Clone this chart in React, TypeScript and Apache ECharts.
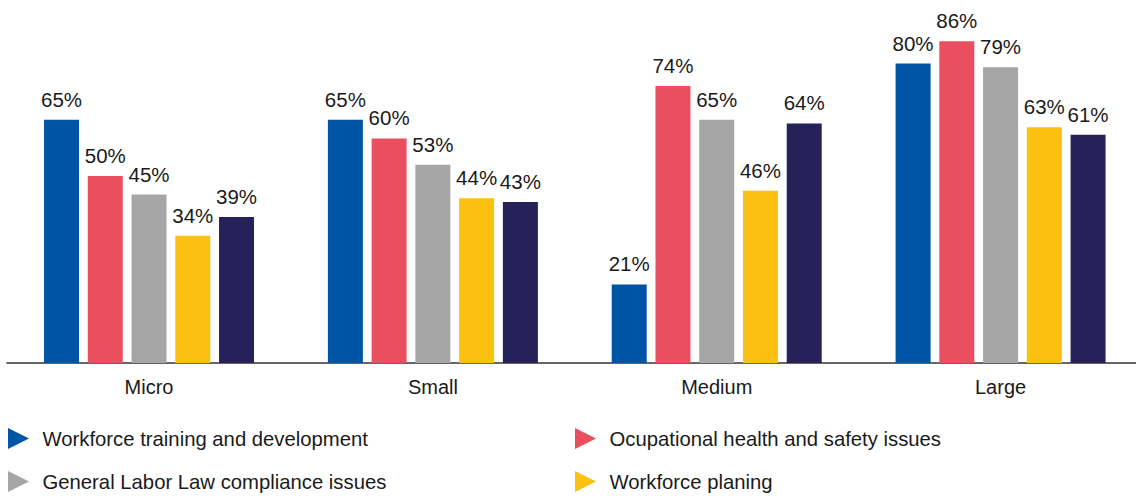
import React, { useEffect, useRef } from "react";
import * as echarts from "echarts";

const categories = ["Micro", "Small", "Medium", "Large"];
const seriesNames = [
  "Workforce training and development",
  "Ocupational health and safety issues",
  "General Labor Law compliance issues",
  "Workforce planing",
  "Other",
];
const trainingValues = [65, 65, 21, 80];
const healthSafetyValues = [50, 60, 74, 86];
const laborLawValues = [45, 53, 65, 79];
const planingValues = [34, 44, 46, 63];
const otherValues = [39, 43, 64, 61];
const seriesColors = ["#0054A6", "#E94F5F", "#A5A6A5", "#FCC010", "#27215A"];

const FONT = "'Liberation Sans', Arial, sans-serif";
const TEXT = "#1a1a1a";
const ICON = "path://M0,0 L10,5 L0,10 Z";

export default function App() {
  const ref = useRef<HTMLDivElement>(null);
  useEffect(() => {
    if (!ref.current) return;
    const chart = echarts.init(ref.current, undefined, { renderer: "svg" });
    const allValues = [trainingValues, healthSafetyValues, laborLawValues, planingValues, otherValues];
    const legendCommon = {
      orient: "vertical" as const,
      top: 428,
      padding: 0,
      itemWidth: 22,
      itemHeight: 21,
      itemGap: 22,
      icon: ICON,
      selectedMode: false,
      textStyle: { fontSize: 20.3, color: TEXT, fontFamily: FONT, padding: [0, 0, 0, 8] },
    };
    chart.setOption({
      animation: false,
      textStyle: { fontFamily: FONT },
      grid: { left: 7.1, top: 0, width: 1135.4, height: 363 },
      legend: [
        { ...legendCommon, left: 8, data: [seriesNames[0], seriesNames[2]] },
        { ...legendCommon, left: 575, data: [seriesNames[1], seriesNames[3]] },
      ],
      xAxis: {
        type: "category",
        data: categories,
        axisLine: { lineStyle: { color: "#666666", width: 2 } },
        axisTick: { show: false },
        axisLabel: { fontSize: 20, color: TEXT, margin: 14, fontFamily: FONT },
      },
      yAxis: {
        type: "value",
        min: 0,
        max: 97,
        show: false,
        splitLine: { show: false },
      },
      series: allValues.map((vals, i) => ({
        name: seriesNames[i],
        type: "bar",
        data: vals,
        barWidth: 35,
        barGap: "25%",
        itemStyle: { color: seriesColors[i] },
        label: {
          show: true,
          position: "top",
          distance: 10,
          formatter: "{c}%",
          fontSize: 20.5,
          color: TEXT,
          fontFamily: FONT,
        },
      })),
    });
    return () => chart.dispose();
  }, []);
  return (
    <div
      style={{ position: "absolute", left: 0, top: 0, width: 1136, height: 496, overflow: "hidden", background: "#fff" }}
    >
      <div ref={ref} style={{ width: 1160, height: 496 }} />
    </div>
  );
}
